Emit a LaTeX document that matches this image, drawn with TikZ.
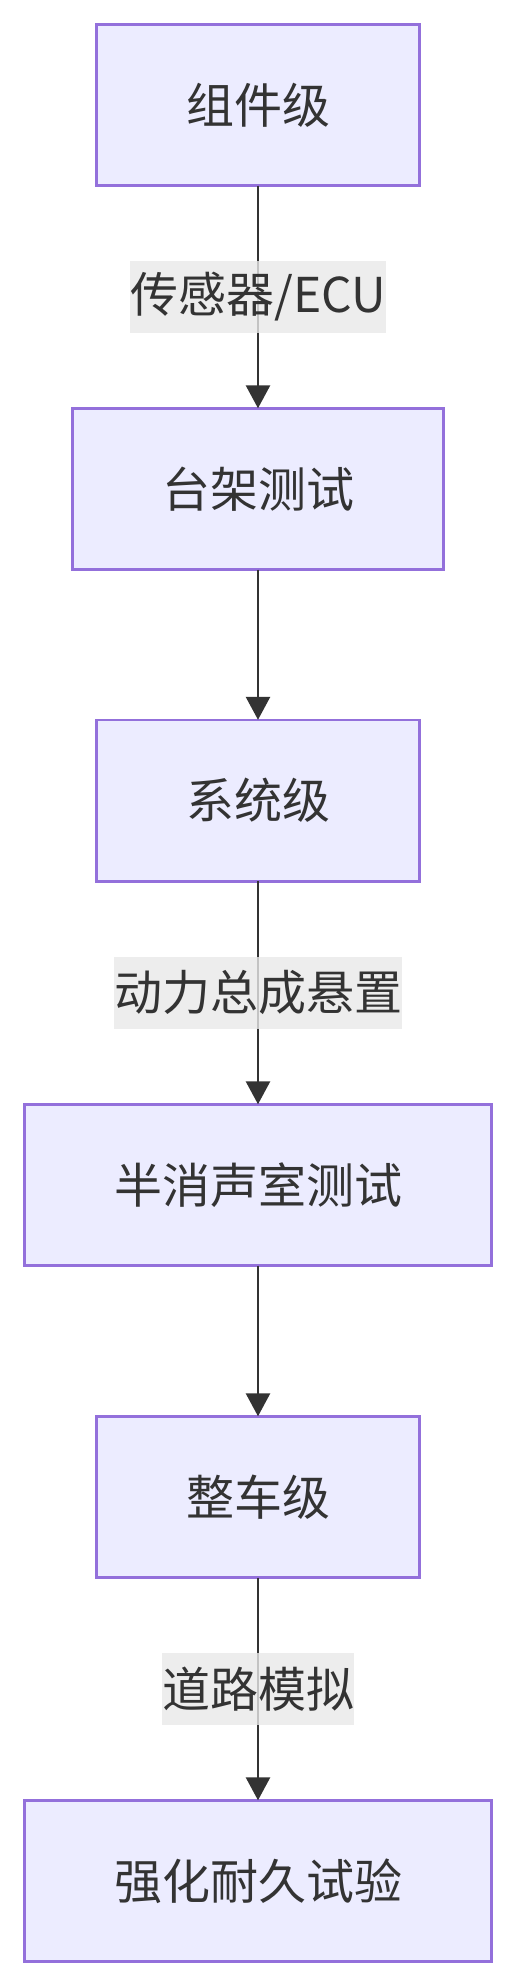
\documentclass[tikz,border=0pt]{standalone}
\usepackage{fontspec}
\setmainfont{Noto Sans CJK SC}
\usetikzlibrary{arrows.meta}
\definecolor{boxfill}{HTML}{ECECFF}
\definecolor{boxline}{HTML}{9370DB}
\definecolor{ink}{HTML}{333333}
\definecolor{lblbg}{HTML}{E8E8E8}
\begin{document}
\begin{tikzpicture}[x=1pt,y=-1pt,
  stage/.style={draw=boxline, fill=boxfill, line width=2.6pt, inner sep=0pt, outer sep=0pt,
    minimum height=161.4pt, text=ink, font=\fontsize{48}{58}\selectfont},
  edgelbl/.style={fill=lblbg, fill opacity=0.8, text opacity=1, inner xsep=0pt, inner ysep=0pt,
    minimum height=72pt, text=ink, font=\fontsize{48}{58}\selectfont},
  flow/.style={draw=ink, line width=2.8pt, -{Triangle[length=23pt, width=24pt]}}]
\useasboundingbox (0,0) rectangle (516,1986);
\node[stage, minimum width=323.4pt] (b1) at (258,105) {组件级};
\node[stage, minimum width=371.4pt] (b2) at (258,489) {台架测试};
\node[stage, minimum width=323.4pt] (b3) at (258,800.5) {系统级};
\node[stage, minimum width=467.4pt] (b4) at (258,1185) {半消声室测试};
\node[stage, minimum width=323.4pt] (b5) at (258,1497) {整车级};
\node[stage, minimum width=467.4pt] (b6) at (258,1881) {强化耐久试验};
\draw[flow] (b1) -- node[edgelbl] (l1) {传感器/ECU} (b2);
\draw[flow] (b2) -- (b3);
\draw[flow] (b3) -- node[edgelbl] (l2) {动力总成悬置} (b4);
\draw[flow] (b4) -- (b5);
\draw[flow] (b5) -- node[edgelbl] (l3) {道路模拟} (b6);
\end{tikzpicture}
\end{document}
